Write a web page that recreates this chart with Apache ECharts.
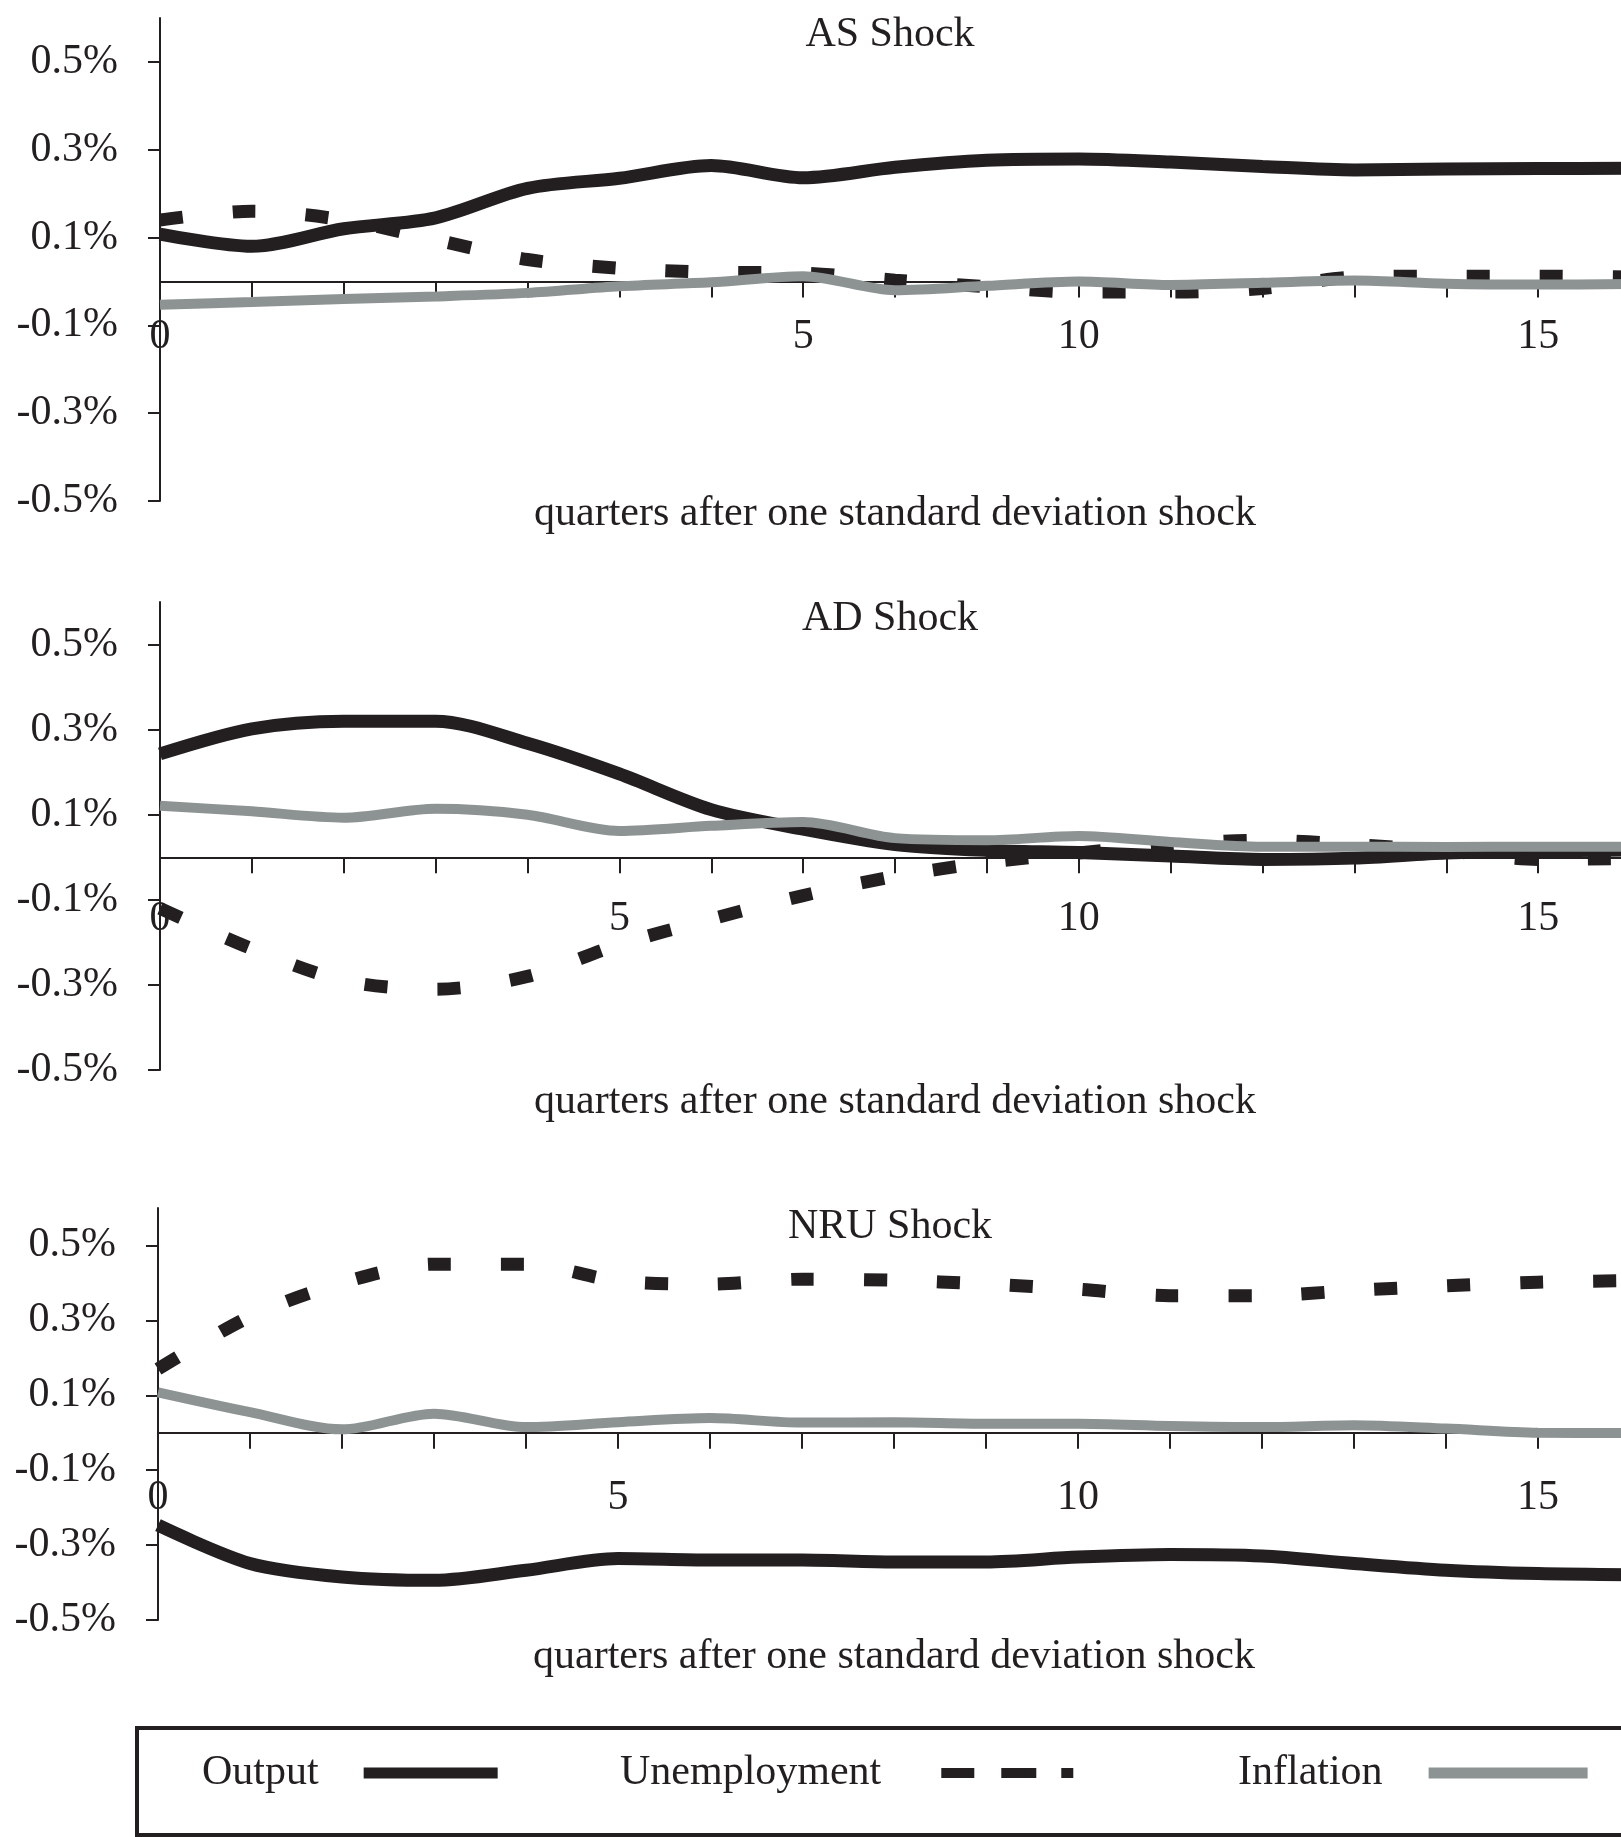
<!DOCTYPE html>
<html>
<head>
<meta charset="utf-8">
<script src="https://cdn.jsdelivr.net/npm/echarts@6/dist/echarts.min.js"></script>
<style>
html,body{margin:0;padding:0;background:#fff;overflow:hidden;}
#chart{width:1780px;height:1837px;}
</style>
</head>
<body>
<div id="chart"></div>
<script>
// ---------- data ----------
const quarters = [0,1,2,3,4,5,6,7,8,9,10,11,12,13,14,15,16];
const xTickLabelsAS = ['0','','','','','','','5','','','10','','','','','15',''];
const xTickLabels   = ['0','','','','','5','','','','','10','','','','','15',''];
const yTickValues = [-0.5,-0.3,-0.1,0.1,0.3,0.5];
const panelTitles = ['AS Shock','AD Shock','NRU Shock'];
const xAxisTitle = 'quarters after one standard deviation shock';
const seriesNames = ['Output','Unemployment','Inflation'];

const asOutput       = [0.108,0.080,0.120,0.145,0.212,0.235,0.264,0.236,0.260,0.276,0.279,0.272,0.262,0.254,0.256,0.257,0.258];
const asUnemployment = [0.140,0.160,0.140,0.095,0.050,0.030,0.021,0.019,0.003,-0.012,-0.024,-0.024,-0.016,0.010,0.012,0.012,0.010];
const asInflation    = [-0.053,-0.047,-0.040,-0.034,-0.026,-0.011,-0.002,0.012,-0.020,-0.010,0.000,-0.008,-0.003,0.002,-0.005,-0.007,-0.006];

const adOutput       = [0.243,0.302,0.320,0.320,0.268,0.196,0.112,0.066,0.030,0.016,0.011,0.003,-0.005,-0.002,0.010,0.015,0.017];
const adUnemployment = [-0.120,-0.215,-0.290,-0.310,-0.280,-0.205,-0.145,-0.090,-0.045,-0.012,0.010,0.030,0.040,0.030,0.015,-0.005,-0.003];
const adInflation    = [0.121,0.108,0.093,0.114,0.100,0.062,0.074,0.083,0.045,0.040,0.050,0.036,0.025,0.025,0.024,0.025,0.025];

const nruOutput       = [-0.247,-0.349,-0.385,-0.394,-0.367,-0.336,-0.340,-0.340,-0.345,-0.345,-0.332,-0.325,-0.329,-0.349,-0.367,-0.376,-0.379];
const nruUnemployment = [0.170,0.310,0.400,0.450,0.450,0.405,0.397,0.410,0.407,0.397,0.383,0.366,0.366,0.380,0.392,0.402,0.406];
const nruInflation    = [0.108,0.055,0.009,0.051,0.015,0.028,0.039,0.027,0.028,0.024,0.024,0.018,0.015,0.020,0.011,0.000,-0.001];

// ---------- styling / layout ----------
const FONT = 'Liberation Serif';
const INK = '#231f20';
const GRAY = '#8d9393';
const Y_MIN = -0.5, Y_MAX = 0.6;
const panels = [
  {title: panelTitles[0], labels: xTickLabelsAS, data: [asOutput, asUnemployment, asInflation],
   grid: {left: 160, top: 18, width: 1470, height: 483}, titleTop: 14, labelMargin: 35, nameGap: 212},
  {title: panelTitles[1], labels: xTickLabels, data: [adOutput, adUnemployment, adInflation],
   grid: {left: 160, top: 602, width: 1470, height: 468}, titleTop: 598, labelMargin: 41, nameGap: 224},
  {title: panelTitles[2], labels: xTickLabels, data: [nruOutput, nruUnemployment, nruInflation],
   grid: {left: 158, top: 1208, width: 1472, height: 412}, titleTop: 1206, labelMargin: 44, nameGap: 203}
];
const lineStyles = [
  {color: INK, width: 13, type: 'solid'},
  {color: INK, width: 13, type: [23, 50], cap: 'butt'},
  {color: GRAY, width: 10, type: 'solid'}
];

const option = {
  backgroundColor: '#fff',
  animation: false,
  title: panels.map(p => ({
    text: p.title, left: 'center', top: p.titleTop, padding: 0,
    textStyle: {fontFamily: FONT, fontSize: 42, lineHeight: 42, fontWeight: 'normal', color: INK}
  })),
  grid: panels.map(p => Object.assign({containLabel: false}, p.grid)),
  xAxis: panels.map((p, i) => ({
    gridIndex: i, type: 'value', min: 0, max: 16, interval: 1,
    // axis sits on the zero line of the value axis
    offset: -p.grid.height * (0 - Y_MIN) / (Y_MAX - Y_MIN),
    axisLine: {show: true, onZero: false, lineStyle: {color: INK, width: 2}},
    axisTick: {show: true, length: 16, lineStyle: {color: INK, width: 2}},
    axisLabel: {formatter: v => p.labels[v] || '', margin: p.labelMargin,
      fontFamily: FONT, fontSize: 42, lineHeight: 42, color: INK},
    splitLine: {show: false},
    name: xAxisTitle, nameLocation: 'middle', nameGap: p.nameGap,
    nameTextStyle: {fontFamily: FONT, fontSize: 42, lineHeight: 42, color: INK}
  })),
  yAxis: panels.map((p, i) => ({
    gridIndex: i, type: 'value', min: Y_MIN, max: Y_MAX,
    axisLine: {show: true, onZero: false, lineStyle: {color: INK, width: 2}},
    axisTick: {show: true, length: 12, customValues: yTickValues, lineStyle: {color: INK, width: 2}},
    axisLabel: {customValues: yTickValues, formatter: v => v.toFixed(1) + '%', margin: 42,
      fontFamily: FONT, fontSize: 42, color: INK, padding: [4, 0, 0, 0]},
    splitLine: {show: false}
  })),
  legend: [
    {name: seriesNames[0], left: 202, pad: 40},
    {name: seriesNames[1], left: 620, pad: 55, icon: 'path://M0,0H33V10H0Z M60,0H95V10H60Z M120,0H132V10H120Z'},
    {name: seriesNames[2], left: 1238, pad: 41}
  ].map((l, k) => ({
    data: [{name: l.name, icon: l.icon || 'rect'}],
    left: l.left, top: 1745, padding: 0, align: 'right', selectedMode: false,
    itemWidth: k === 2 ? 159 : (k === 1 ? 132 : 134), itemHeight: k === 1 ? 10 : 11,
    itemStyle: {borderWidth: 0},
    lineStyle: {width: 0},
    textStyle: {fontFamily: FONT, fontSize: 42, lineHeight: 42, color: INK, padding: [14, l.pad, 0, 0]}
  })),
  graphic: [{
    type: 'rect', silent: true,
    shape: {x: 137, y: 1728, width: 1700, height: 107},
    style: {fill: 'none', stroke: INK, lineWidth: 4}
  }],
  series: []
};

panels.forEach((p, i) => {
  p.data.forEach((arr, k) => {
    option.series.push({
      name: seriesNames[k], type: 'line', xAxisIndex: i, yAxisIndex: i,
      data: quarters.map((q, j) => [q, arr[j]]),
      showSymbol: false, symbol: 'none', smooth: 0.3,
      itemStyle: {color: lineStyles[k].color},
      lineStyle: lineStyles[k],
      z: 2 + k
    });
  });
});

const chart = echarts.init(document.getElementById('chart'), null, {renderer: 'canvas'});
chart.setOption(option);
</script>
</body>
</html>
